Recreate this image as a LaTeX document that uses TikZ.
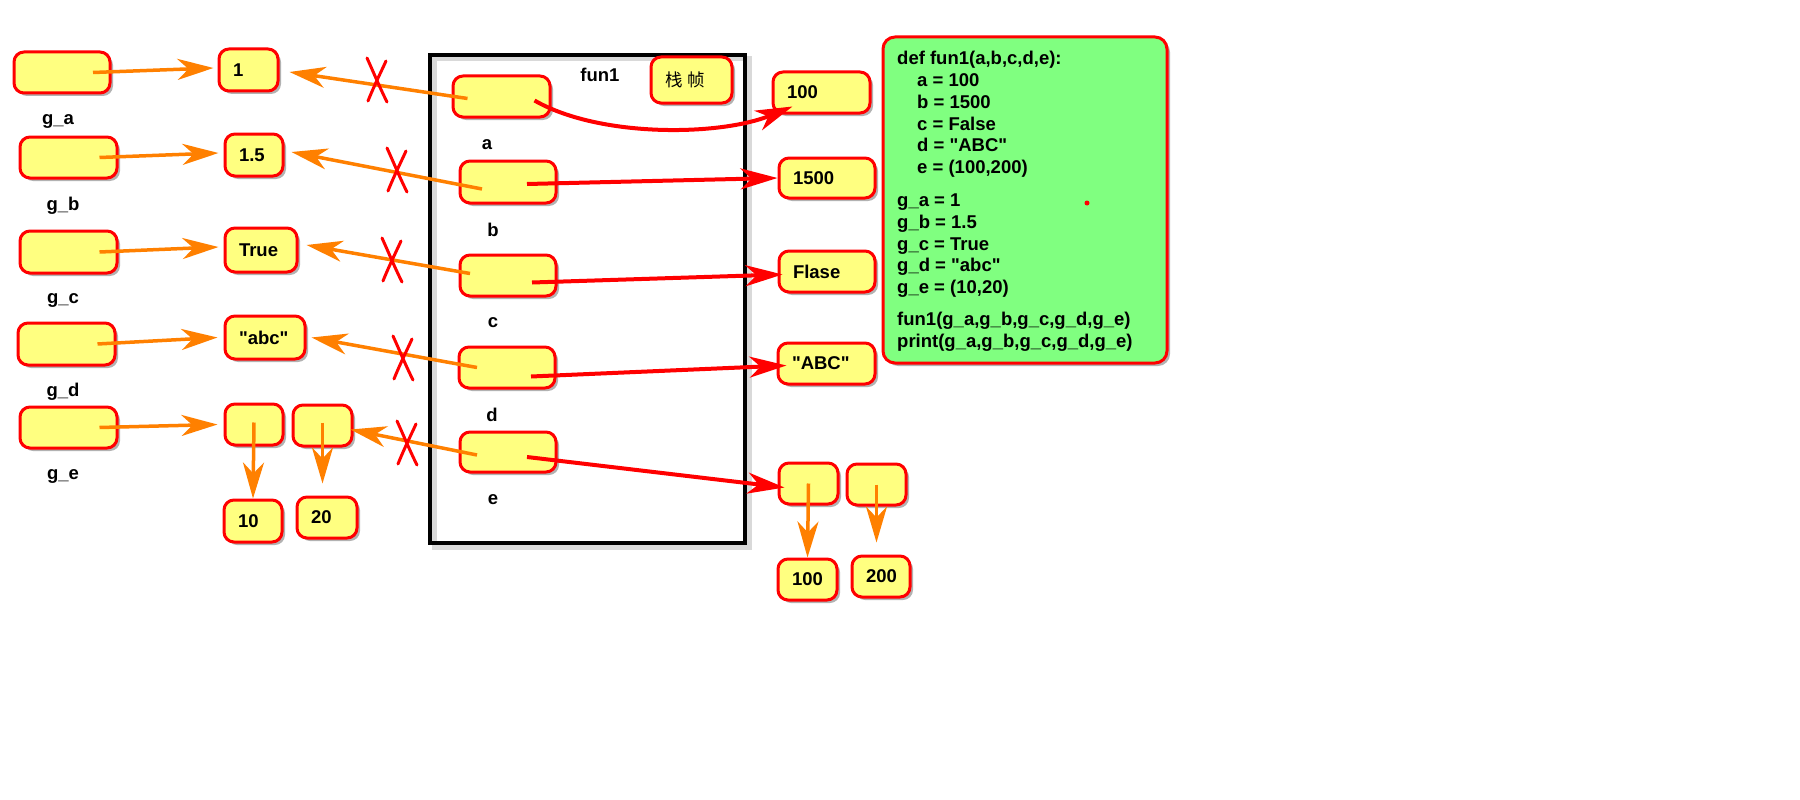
\documentclass[tikz,border=0pt]{standalone}
\usepackage{fontspec}
\newfontfamily\arial{Liberation Sans}
\newfontfamily\cjk{Noto Sans CJK SC}
\usetikzlibrary{arrows.meta,shadows,calc}
\definecolor{yel}{RGB}{255,255,128}
\definecolor{org}{RGB}{255,128,0}
\definecolor{grn}{RGB}{128,255,128}
\tikzset{
  vbox/.style={rectangle, rounded corners=10pt, draw=red, line width=3pt, fill=yel,
    drop shadow={shadow xshift=3pt, shadow yshift=-3pt, opacity=0.3, fill=black},
    inner xsep=14pt, inner ysep=0pt, align=left,
    font=\arial\bfseries\fontsize{18.5}{22}\selectfont},
  lab/.style={inner sep=0pt, font=\arial\bfseries\fontsize{18.5}{22}\selectfont},
  oarr/.style={draw=org, line width=3.5pt, -{Stealth[length=36pt,width=21pt,inset=11pt]}},
  rarr/.style={draw=red, line width=4pt, -{Stealth[length=37pt,width=21pt,inset=11pt]}},
  xm/.pic={
    \draw[red, line width=3pt, line cap=round] (-10,-22) .. controls (-4,-9) and (2,6) .. (10,22);
    \draw[red, line width=3pt, line cap=round] (9,-19) .. controls (4,-8) and (-3,6) .. (-9,21);
  }
}
\newcommand\MyBox[6]{%
  \pgfmathsetmacro\mbw{#4-#2}\pgfmathsetmacro\mbh{#5-#3}\pgfmathsetmacro\mbt{#4-#2-28}%
  \pgfmathsetmacro\mbx{(#2+#4)/2}\pgfmathsetmacro\mby{(#3+#5)/2}%
  \node[vbox, minimum width=\mbw pt, minimum height=\mbh pt, text width=\mbt pt] (#1) at (\mbx,\mby) {#6};}
\begin{document}
\begin{tikzpicture}[x=1pt,y=-1pt]
\fill[white] (0,0) rectangle (1800,800);
\useasboundingbox (0,0) rectangle (1800,800);

% frame of fun1
\draw[black, opacity=0.15, line width=5pt] (434,59) rectangle (749,547);
\node[draw=black, line width=4pt, minimum width=315pt, minimum height=488pt, inner sep=0pt] (frame) at (587.5,299) {};

% global variable boxes
\MyBox{ga}{14}{52}{110}{93}{}
\MyBox{gb}{20}{137}{117}{178}{}
\MyBox{gc}{20}{231}{117}{273}{}
\MyBox{gd}{18}{323}{115}{365}{}
\MyBox{ge}{20}{407}{117}{448}{}
\node[lab] (lga) at (58,121) {g\_a};
\node[lab] (lgb) at (63,206) {g\_b};
\node[lab] (lgc) at (63,300) {g\_c};
\node[lab] (lgd) at (63,392) {g\_d};
\node[lab] (lge) at (63,476) {g\_e};

% left values
\MyBox{v1}{219}{49}{278}{91}{1}
\MyBox{v15}{225}{134}{283}{176}{1.5}
\MyBox{vT}{225}{228}{297}{272}{True}
\MyBox{vabc}{225}{316}{305}{359}{"abc"}
\MyBox{t1}{225}{404}{283}{445}{}
\MyBox{t2}{293}{405}{352}{446}{}
\MyBox{v10}{224}{500}{282}{542}{10}
\MyBox{v20}{297}{497}{357}{538}{20}

% parameters
\MyBox{pa}{453}{76}{550}{117}{}
\MyBox{pb}{460}{161}{556}{203}{}
\MyBox{pc}{460}{255}{556}{296}{}
\MyBox{pd}{459}{347}{555}{388}{}
\MyBox{pe}{460}{432}{556}{472}{}
\MyBox{zhen}{651}{57}{732}{103}{{\cjk\mdseries\fontsize{17.5}{20}\selectfont 栈\hspace{5pt}帧}}
\node[lab] (lfun) at (600,75) {fun1};
\node[lab] (la) at (487,145) {a};
\node[lab] (lb) at (493,230) {b};
\node[lab] (lc) at (493,323) {c};
\node[lab] (ld) at (492,415) {d};
\node[lab] (le) at (493,500) {e};

% right values
\MyBox{r100}{773}{72}{870}{113}{100}
\MyBox{r1500}{779}{158}{875}{198}{1500}
\MyBox{rF}{779}{251}{875}{292}{Flase}
\MyBox{rABC}{778}{343}{875}{384}{"ABC"}
\MyBox{rt1}{779}{463}{838}{504}{}
\MyBox{rt2}{847}{464}{906}{505}{}
\MyBox{r100b}{778}{559}{837}{600}{100}
\MyBox{r200}{852}{556}{910}{597}{200}

% code box
\node[rectangle, rounded corners=12pt, draw=red, line width=3pt, fill=grn,
  drop shadow={shadow xshift=3pt, shadow yshift=-3pt, opacity=0.3, fill=black},
  minimum width=284pt, minimum height=326pt] (code) at (1025,200) {};
\node[anchor=north west, inner sep=0pt, align=left, font=\arial\bfseries\fontsize{18.5}{21.8}\selectfont] (codetext) at (897,51) {%
def fun1(a,b,c,d,e):\\
\hspace*{20pt}a = 100\\
\hspace*{20pt}b = 1500\\
\hspace*{20pt}c = False\\
\hspace*{20pt}d = "ABC"\\
\hspace*{20pt}e = (100,200)\\[11pt]
g\_a = 1\\
g\_b = 1.5\\
g\_c = True\\
g\_d = "abc"\\
g\_e = (10,20)\\[10pt]
fun1(g\_a,g\_b,g\_c,g\_d,g\_e)\\
print(g\_a,g\_b,g\_c,g\_d,g\_e)};
\node[circle, fill=red, inner sep=0pt, minimum size=5pt] (dot) at (1087,203) {};

% forward orange arrows
\draw[oarr] ([xshift=31pt]ga.center) -- ([xshift=-4pt,yshift=2pt]v1.west);
\draw[oarr] ([xshift=31pt]gb.center) -- ([xshift=-5pt,yshift=2pt]v15.west);
\draw[oarr] ([xshift=31pt]gc.center) -- ([xshift=-5pt,yshift=3pt]vT.west);
\draw[oarr] ([xshift=31pt]gd.center) -- ([xshift=-6pt]vabc.west);
\draw[oarr] ([xshift=31pt]ge.center) -- ([xshift=-6pt]t1.west);
\draw[oarr] ([yshift=2pt]t1.center) -- (v10.north);
\draw[oarr, shorten >=12pt] ([yshift=3pt]t2.center) -- (t2.center |- v20.north);

% back orange arrows
\draw[oarr] ([xshift=-34pt,yshift=-2pt]pa.center) -- ([xshift=10pt,yshift=-2pt]v1.east);
\draw[oarr] ([xshift=-26pt,yshift=-7pt]pb.center) -- ([xshift=7pt,yshift=3pt]v15.east);
\draw[oarr] ([xshift=-38pt,yshift=2pt]pc.center) -- ([xshift=8pt,yshift=5pt]vT.east);
\draw[oarr] ([xshift=-30pt]pd.center) -- ([xshift=5pt]vabc.east);
\draw[oarr] ([xshift=-31pt,yshift=-3pt]pe.center) -- ([xshift=-3pt,yshift=-4pt]t2.east);

% crosses
\pic at (377,80) {xm};
\pic at (397,170) {xm};
\pic at (392,260) {xm};
\pic at (403,358) {xm};
\pic at (407,443) {xm};

% red arrows
\draw[rarr] ([xshift=33pt,yshift=-4pt]pa.center) .. controls (600,138) and (720,136) .. ([xshift=21pt,yshift=-14pt]r100.west);
\draw[rarr] ([xshift=19pt,yshift=-2pt]pb.center) -- (r1500.west);
\draw[rarr] ([xshift=24pt,yshift=-7pt]pc.center) -- ([xshift=5pt,yshift=-3pt]rF.west);
\draw[rarr] ([xshift=24pt,yshift=-9pt]pd.center) -- ([xshift=10pt,yshift=-2pt]rABC.west);
\draw[rarr] ([xshift=19pt,yshift=-5pt]pe.center) -- ([xshift=7pt,yshift=-4pt]rt1.west);
\draw[oarr] (rt1.center) -- (r100b.north);
\draw[oarr, shorten >=12pt] (rt2.center) -- (rt2.center |- r200.north);
\end{tikzpicture}
\end{document}
